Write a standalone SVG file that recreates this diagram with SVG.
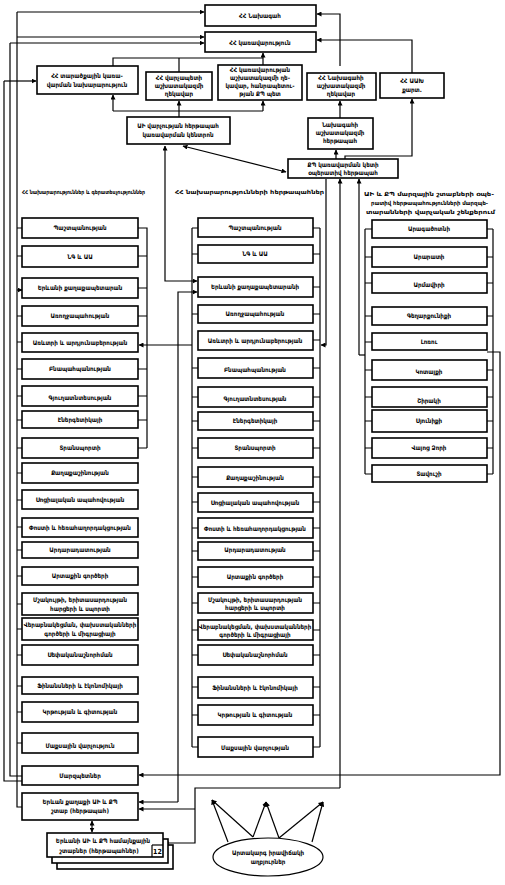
<svg xmlns="http://www.w3.org/2000/svg" width="505" height="885" viewBox="0 0 505 885">
<defs>
<marker id="ar" viewBox="0 0 10 10" refX="9" refY="5" markerWidth="5" markerHeight="5" orient="auto-start-reverse" markerUnits="userSpaceOnUse">
<path d="M0,0 L10,5 L0,10 z" fill="#000"/>
</marker>
<style>
.b{fill:#fff;stroke:#000;stroke-width:1.6}
.t{font-family:"DejaVu Sans Condensed","DejaVu Sans",sans-serif;font-size:6.2px;text-anchor:middle;fill:#000;font-weight:bold}
.lb{font-family:"DejaVu Sans Condensed","DejaVu Sans",sans-serif;font-size:5.6px;fill:#000;font-weight:bold}
.l{fill:none;stroke:#000;stroke-width:1.2}
.a{fill:none;stroke:#000;stroke-width:1.2;marker-end:url(#ar)}
.d{fill:none;stroke:#000;stroke-width:1.2;marker-start:url(#ar);marker-end:url(#ar)}
</style>
</defs>
<rect width="505" height="885" fill="#fff"/>

<g id="connectors">
<path class="a" d="M17,12 H204"/>
<path class="a" d="M17,37 H204"/>
<path class="a" d="M10,43 H204"/>
<path class="a" d="M340,66 V14 H317"/>
<path class="a" d="M412,73 V40 H317"/>
<path class="a" d="M263,65 V53"/>
<path class="l" d="M113,66 V58 H263"/>
<path class="l" d="M179,72 V58"/>
<path class="l" d="M113,111 H263"/>
<path class="a" d="M113,111 V95"/>
<path class="a" d="M179,117 V101"/>
<path class="a" d="M263,111 V101"/>
<path class="a" d="M4,81 H36"/>
<path class="a" d="M340,118 V101"/>
<path class="a" d="M336,159 V150"/>
<path class="a" d="M345,159 V156 H412 V99"/>
<path class="d" d="M183,146 L286,172"/>
<path class="d" d="M165,146 V281 H197"/>
<path class="a" d="M178,802 V292 H197"/>
<path class="a" d="M178,802 H139"/>
<path class="a" d="M192,345 H139"/>
<path class="a" d="M326,179 V345 H321"/>
<path class="a" d="M359,355 V179"/>
<path class="l" d="M359,355 H365"/>
<path class="a" d="M340,788 V179"/>
<path class="a" d="M340,788 H195 V843 H164"/>
<path class="a" d="M195,809 H139"/>
<path class="a" d="M487,352 H500 V775 H139"/>
<path class="l" d="M4,81 V781 H22"/>
<path class="l" d="M10,43 V776 H22"/>
<path class="l" d="M17,12 V807 H22"/>
<path class="d" d="M92,821 V832"/>
<!-- left column brackets -->
<path class="l" d="M17,228 H22 M17,256 H22 M17,316 H22 M17,342 H22 M17,369 H22 M17,396 H22 M17,420 H22 M17,448 H22 M17,473 H22 M17,500 H22 M17,527 H22 M17,550 H22 M17,576 H22 M17,604 H22 M17,629 H22 M17,655 H22 M17,686 H22 M17,712 H22 M17,743 H22"/>
<path class="a" d="M17,290 H22"/>
<path class="l" d="M138,228 H147 V448 M138,256 H147 M138,288 H147 M138,316 H147 M138,369 H147 M138,396 H147 M138,420 H147 M138,448 H147"/>
<!-- middle column brackets -->
<path class="l" d="M192,228 V747 M192,228 H198 M192,254 H198 M192,314 H198 M192,368 H198 M192,397 H198 M192,421 H198 M192,448 H198 M192,477 H198 M192,502 H198 M192,528 H198 M192,551 H198 M192,577 H198 M192,603 H198 M192,630 H198 M192,655 H198 M192,687 H198 M192,715 H198 M192,747 H198"/>
<path class="l" d="M320,228 V747 M313,228 H320 M313,254 H320 M313,287 H320 M313,314 H320 M313,340 H320 M313,368 H320 M313,397 H320 M313,421 H320 M313,448 H320 M313,477 H320 M313,502 H320 M313,528 H320 M313,551 H320 M313,577 H320 M313,603 H320 M313,630 H320 M313,655 H320 M313,687 H320 M313,715 H320 M313,747 H320"/>
<!-- right column brackets -->
<path class="l" d="M365,229 V474 M365,229 H372 M365,257 H372 M365,283 H372 M365,316 H372 M365,342 H372 M365,370 H372 M365,397 H372 M365,421 H372 M365,448 H372 M365,474 H372"/>
<path class="l" d="M493,229 V474 M487,229 H493 M487,257 H493 M487,283 H493 M487,316 H493 M487,370 H493 M487,397 H493 M487,421 H493 M487,448 H493 M487,474 H493"/>
<!-- ellipse arrows -->
<path class="a" d="M228,842 L212,800"/>
<path class="a" d="M253,837 L212,800"/>
<path class="a" d="M253,837 L266,802"/>
<path class="a" d="M279,838 L266,802"/>
<path class="a" d="M279,838 L323,802"/>
<path class="a" d="M312,842 L323,802"/>
</g>

<g id="president"><rect class="b" x="205" y="5" width="111" height="21"/><text class="t" x="260" y="18">ՀՀ Նախագահ</text></g>
<g id="government"><rect class="b" x="205" y="32" width="111" height="20"/><text class="t" x="260" y="44.5">ՀՀ կառավարություն</text></g>
<g id="mta"><rect class="b" x="37" y="66" width="101" height="28"/><text class="t" x="87" y="78">ՀՀ տարածքային կառա-</text><text class="t" x="87" y="87">վարման նախարարություն</text></g>
<g id="pm-staff"><rect class="b" x="146" y="72" width="66" height="28"/><text class="t" x="179" y="80">ՀՀ վարչապետի</text><text class="t" x="179" y="88">աշխատակազմի</text><text class="t" x="179" y="96">ղեկավար</text></g>
<g id="gov-staff"><rect class="b" x="218" y="65" width="84" height="35"/><text class="t" x="260" y="72">ՀՀ կառավարության</text><text class="t" x="260" y="80">աշխատակազմի ղե-</text><text class="t" x="260" y="88">կավար, հանրապետու-</text><text class="t" x="260" y="96">թյան ՔՊ պետ</text></g>
<g id="pres-staff"><rect class="b" x="307" y="73" width="69" height="27"/><text class="t" x="341" y="80">ՀՀ Նախագահի</text><text class="t" x="341" y="88">աշխատակազմի</text><text class="t" x="341" y="96">ղեկավար</text></g>
<g id="nsc"><rect class="b" x="380" y="73" width="64" height="25"/><text class="t" x="412" y="83">ՀՀ ԱԱԽ</text><text class="t" x="412" y="92">քարտ.</text></g>
<g id="ei-center"><rect class="b" x="127" y="117" width="103" height="27"/><text class="t" x="178" y="128">ԱԻ վարչության հերթապահ</text><text class="t" x="178" y="137">կառավարման կենտրոն</text></g>
<g id="pres-duty"><rect class="b" x="308" y="118" width="65" height="31"/><text class="t" x="340" y="127">Նախագահի</text><text class="t" x="340" y="135">աշխատակազմի</text><text class="t" x="340" y="143">հերթապահ</text></g>
<g id="cd-duty"><rect class="b" x="288" y="159" width="110" height="19"/><text class="t" x="343" y="167">ՔՊ կառավարման կետի</text><text class="t" x="343" y="175">օպերատիվ հերթապահ</text></g>

<g id="labels">
<text class="lb" x="22" y="194" textLength="123" lengthAdjust="spacingAndGlyphs">ՀՀ նախարարություններ և գերատեսչություններ</text>
<text class="lb" x="175" y="194" textLength="149" lengthAdjust="spacingAndGlyphs">ՀՀ նախարարությունների հերթապահներ</text>
<text class="lb" x="364" y="196" textLength="130" lengthAdjust="spacingAndGlyphs">ԱԻ և ՔՊ մարզային շտաբների օպե-</text>
<text class="lb" x="371" y="205" textLength="117" lengthAdjust="spacingAndGlyphs">րատիվ հերթապահությունների մարզպե-</text>
<text class="lb" x="366" y="214" textLength="129" lengthAdjust="spacingAndGlyphs">տարանների վարչական շենքերում</text>
</g>

<g id="left-column">
<g id="l1"><rect class="b" x="22" y="218" width="116" height="20"/><text class="t" x="80" y="230">Պաշտպանության</text></g>
<g id="l2"><rect class="b" x="22" y="246" width="116" height="21"/><text class="t" x="80" y="258.5">ՆԳ և ԱԱ</text></g>
<g id="l3"><rect class="b" x="22" y="278" width="116" height="20"/><text class="t" x="80" y="290">Երևանի քաղաքապետարան</text></g>
<g id="l4"><rect class="b" x="22" y="306" width="116" height="20"/><text class="t" x="80" y="318">Առողջապահության</text></g>
<g id="l5"><rect class="b" x="22" y="333" width="116" height="19"/><text class="t" x="80" y="344.5">Առևտրի և արդյունաբերության</text></g>
<g id="l6"><rect class="b" x="22" y="359" width="116" height="20"/><text class="t" x="80" y="371">Բնապահպանության</text></g>
<g id="l7"><rect class="b" x="22" y="386" width="116" height="20"/><text class="t" x="80" y="400">Գյուղատնտեսության</text></g>
<g id="l8"><rect class="b" x="22" y="411" width="116" height="17"/><text class="t" x="80" y="421.5">Էներգետիկայի</text></g>
<g id="l9"><rect class="b" x="22" y="438" width="116" height="20"/><text class="t" x="80" y="450">Տրանսպորտի</text></g>
<g id="l10"><rect class="b" x="22" y="463" width="116" height="20"/><text class="t" x="80" y="475">Քաղաքաշինության</text></g>
<g id="l11"><rect class="b" x="22" y="490" width="116" height="19"/><text class="t" x="80" y="501.5">Սոցիալական ապահովության</text></g>
<g id="l12"><rect class="b" x="22" y="518" width="116" height="19"/><text class="t" x="80" y="529.5">Փոստի և հեռահաղորդակցության</text></g>
<g id="l13"><rect class="b" x="22" y="542" width="116" height="16"/><text class="t" x="80" y="552">Արդարադատության</text></g>
<g id="l14"><rect class="b" x="22" y="567" width="116" height="18"/><text class="t" x="80" y="578">Արտաքին գործերի</text></g>
<g id="l15"><rect class="b" x="22" y="593" width="116" height="22"/><text class="t" x="80" y="602">Մշակույթի, երիտասարդության</text><text class="t" x="80" y="611">հարցերի և սպորտի</text></g>
<g id="l16"><rect class="b" x="22" y="618" width="116" height="22"/><text class="t" x="80" y="627">Վերաբնակեցման, փախստականների</text><text class="t" x="80" y="636">գործերի և միգրացիայի</text></g>
<g id="l17"><rect class="b" x="22" y="645" width="116" height="20"/><text class="t" x="80" y="657">Սեփականաշնորհման</text></g>
<g id="l18"><rect class="b" x="22" y="677" width="116" height="17"/><text class="t" x="80" y="687.5">Ֆինանսների և էկոնոմիկայի</text></g>
<g id="l19"><rect class="b" x="22" y="702" width="116" height="20"/><text class="t" x="80" y="714">Կրթության և գիտության</text></g>
<g id="l20"><rect class="b" x="22" y="733" width="116" height="20"/><text class="t" x="80" y="748">Մաքսային վարչություն</text></g>
<g id="l21"><rect class="b" x="22" y="766" width="116" height="19"/><text class="t" x="80" y="777.5">Մարզպետներ</text></g>
<g id="l22"><rect class="b" x="22" y="793" width="116" height="27"/><text class="t" x="80" y="804">Երևան քաղաքի ԱԻ և ՔՊ</text><text class="t" x="80" y="813">շտաբ (հերթապահ)</text></g>
</g>

<g id="mid-column">
<g id="m1"><rect class="b" x="198" y="218" width="115" height="19"/><text class="t" x="255" y="229.5">Պաշտպանության</text></g>
<g id="m2"><rect class="b" x="198" y="245" width="115" height="18"/><text class="t" x="255" y="256">ՆԳ և ԱԱ</text></g>
<g id="m3"><rect class="b" x="198" y="277" width="115" height="20"/><text class="t" x="255" y="289">Երևանի քաղաքապետարանի</text></g>
<g id="m4"><rect class="b" x="198" y="305" width="115" height="18"/><text class="t" x="255" y="316">Առողջապահության</text></g>
<g id="m5"><rect class="b" x="198" y="331" width="115" height="19"/><text class="t" x="255" y="342.5">Առևտրի և արդյունաբերության</text></g>
<g id="m6"><rect class="b" x="198" y="358" width="115" height="20"/><text class="t" x="255" y="372">Բնապահպանության</text></g>
<g id="m7"><rect class="b" x="198" y="387" width="115" height="20"/><text class="t" x="255" y="401">Գյուղատնտեսության</text></g>
<g id="m8"><rect class="b" x="198" y="412" width="115" height="18"/><text class="t" x="255" y="423">Էներգետիկայի</text></g>
<g id="m9"><rect class="b" x="198" y="438" width="115" height="20"/><text class="t" x="255" y="450">Տրանսպորտի</text></g>
<g id="m10"><rect class="b" x="198" y="467" width="115" height="20"/><text class="t" x="255" y="480">Քաղաքաշինության</text></g>
<g id="m11"><rect class="b" x="198" y="493" width="115" height="19"/><text class="t" x="255" y="504.5">Սոցիալական ապահովության</text></g>
<g id="m12"><rect class="b" x="198" y="518" width="115" height="20"/><text class="t" x="255" y="531">Փոստի և հեռահաղորդակցության</text></g>
<g id="m13"><rect class="b" x="198" y="542" width="115" height="18"/><text class="t" x="255" y="552">Արդարադատության</text></g>
<g id="m14"><rect class="b" x="198" y="567" width="115" height="20"/><text class="t" x="255" y="579">Արտաքին գործերի</text></g>
<g id="m15"><rect class="b" x="198" y="593" width="115" height="20"/><text class="t" x="255" y="601.5">Մշակույթի, երիտասարդության</text><text class="t" x="255" y="610">հարցերի և սպորտի</text></g>
<g id="m16"><rect class="b" x="198" y="620" width="115" height="20"/><text class="t" x="255" y="628.5">Վերաբնակեցման, փախստականների</text><text class="t" x="255" y="637">գործերի և միգրացիայի</text></g>
<g id="m17"><rect class="b" x="198" y="645" width="115" height="20"/><text class="t" x="255" y="657">Սեփականաշնորհման</text></g>
<g id="m18"><rect class="b" x="198" y="677" width="115" height="21"/><text class="t" x="255" y="689.5">Ֆինանսների և էկոնոմիկայի</text></g>
<g id="m19"><rect class="b" x="198" y="705" width="115" height="20"/><text class="t" x="255" y="717">Կրթության և գիտության</text></g>
<g id="m20"><rect class="b" x="198" y="737" width="115" height="20"/><text class="t" x="255" y="750">Մաքսային վարչության</text></g>
</g>

<g id="right-column">
<g id="r1"><rect class="b" x="372" y="220" width="115" height="18"/><text class="t" x="429" y="231">Արագածոտնի</text></g>
<g id="r2"><rect class="b" x="372" y="247" width="115" height="20"/><text class="t" x="429" y="259">Արարատի</text></g>
<g id="r3"><rect class="b" x="372" y="273" width="115" height="20"/><text class="t" x="429" y="287">Արմավիրի</text></g>
<g id="r4"><rect class="b" x="372" y="307" width="115" height="18"/><text class="t" x="429" y="318">Գեղարքունիքի</text></g>
<g id="r5"><rect class="b" x="372" y="333" width="115" height="17"/><text class="t" x="429" y="344">Լոռու</text></g>
<g id="r6"><rect class="b" x="372" y="360" width="115" height="20"/><text class="t" x="429" y="374">Կոտայքի</text></g>
<g id="r7"><rect class="b" x="372" y="387" width="115" height="20"/><text class="t" x="429" y="403">Շիրակի</text></g>
<g id="r8"><rect class="b" x="372" y="410" width="115" height="22"/><text class="t" x="429" y="423">Սյունիքի</text></g>
<g id="r9"><rect class="b" x="372" y="438" width="115" height="20"/><text class="t" x="429" y="450">Վայոց Ձորի</text></g>
<g id="r10"><rect class="b" x="372" y="465" width="115" height="17"/><text class="t" x="429" y="476">Տավուշի</text></g>
</g>

<g id="community-hq">
<rect class="b" x="57" y="845" width="116" height="24"/>
<rect class="b" x="52" y="839" width="116" height="24"/>
<rect class="b" x="47" y="833" width="116" height="24"/>
<line x1="152" y1="845" x2="152" y2="857" stroke="#000" stroke-width="1.2"/>
<line x1="152" y1="845" x2="163" y2="845" stroke="#000" stroke-width="1.2"/>
<text class="t" x="103" y="843">Երևանի ԱԻ և ՔՊ համայնքային</text>
<text class="t" x="99" y="853">շտաբներ (հերթապահներ)</text>
<text class="t" x="157.5" y="854" style="font-size:7px">12</text>
</g>

<g id="emergency-source">
<ellipse cx="268" cy="857" rx="55" ry="19" fill="#fff" stroke="#000" stroke-width="1.2"/>
<text class="t" x="268" y="855">Արտակարգ իրավիճակի</text>
<text class="t" x="268" y="864">աղբյուրներ</text>
</g>
</svg>
